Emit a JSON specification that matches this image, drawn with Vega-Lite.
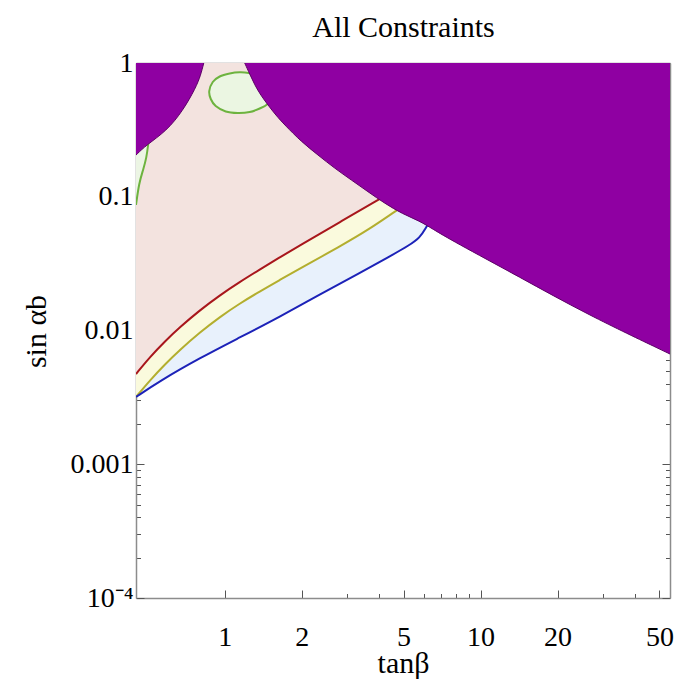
{
  "$schema": "https://vega.github.io/schema/vega-lite/v6.json",
  "width": 534,
  "height": 535,
  "autosize": {"type": "none"},
  "padding": {"left": 136, "top": 63, "right": 6, "bottom": 81},
  "config": {
    "view": {"stroke": null},
    "axis": {"labelFont": "Liberation Serif", "labelFontSize": 28, "labelColor": "#000", "titleFont": "Liberation Serif", "titleFontSize": 30, "titleFontWeight": "normal", "titleColor": "#000", "domainColor": "#8c8c8c", "domainWidth": 1.5, "tickColor": "#555", "tickWidth": 1, "grid": false, "zindex": 1, "labelOverlap": false, "labelFlush": false}
  },
  "datasets": {
    "purpleL": [{"tan":0.45,"sin":0.205},{"tan":0.494,"sin":0.2436},{"tan":0.592,"sin":0.31},{"tan":0.685,"sin":0.4377},{"tan":0.77,"sin":0.65},{"tan":0.806,"sin":0.813},{"tan":0.828,"sin":1}],
    "purpleR": [{"tan":1.197,"sin":1},{"tan":1.252,"sin":0.827},{"tan":1.31,"sin":0.685},{"tan":1.382,"sin":0.576},{"tan":1.476,"sin":0.485},{"tan":1.582,"sin":0.4087},{"tan":1.716,"sin":0.3439},{"tan":1.993,"sin":0.258},{"tan":2.314,"sin":0.2051},{"tan":2.69,"sin":0.1632},{"tan":3.126,"sin":0.1334},{"tan":3.629,"sin":0.1091},{"tan":4.217,"sin":0.0893},{"tan":4.96,"sin":0.0743},{"tan":5.777,"sin":0.0659},{"tan":6.494,"sin":0.0574},{"tan":7.775,"sin":0.0467},{"tan":14.21,"sin":0.0251},{"tan":25.87,"sin":0.01328},{"tan":55,"sin":0.00667}],
    "red": [{"tan":0.45,"sin":0.004727},{"tan":0.5094,"sin":0.006316},{"tan":0.583,"sin":0.008276},{"tan":0.6671,"sin":0.010566},{"tan":0.7988,"sin":0.014159},{"tan":0.956,"sin":0.01833},{"tan":1.1444,"sin":0.023052},{"tan":1.3699,"sin":0.028526},{"tan":1.6399,"sin":0.035203},{"tan":1.9634,"sin":0.043193},{"tan":2.8131,"sin":0.064521},{"tan":4.1051,"sin":0.098197}],
    "olive": [{"tan":0.45,"sin":0.003183},{"tan":0.5094,"sin":0.004228},{"tan":0.583,"sin":0.005569},{"tan":0.6671,"sin":0.007147},{"tan":0.7988,"sin":0.009661},{"tan":0.956,"sin":0.012616},{"tan":1.1444,"sin":0.015915},{"tan":1.3699,"sin":0.019568},{"tan":1.6399,"sin":0.023851},{"tan":1.9634,"sin":0.028925},{"tan":2.8131,"sin":0.042385},{"tan":3.6857,"sin":0.057396},{"tan":4.6558,"sin":0.078219},{"tan":5.0033,"sin":0.085237}],
    "blue": [{"tan":0.45,"sin":0.003183},{"tan":0.5573,"sin":0.004192},{"tan":0.7988,"sin":0.006229},{"tan":1.1444,"sin":0.008866},{"tan":1.6399,"sin":0.012661},{"tan":2.35,"sin":0.018585},{"tan":3.369,"sin":0.026913},{"tan":4.4111,"sin":0.035752},{"tan":5.28,"sin":0.043572},{"tan":5.7777,"sin":0.049155},{"tan":6.1518,"sin":0.059397},{"tan":6.3202,"sin":0.065866}],
    "greenL": [{"tan":0.45,"sin":0.0868},{"tan":0.4625,"sin":0.1267},{"tan":0.4797,"sin":0.1585},{"tan":0.4944,"sin":0.1949},{"tan":0.5026,"sin":0.248},{"tan":0.5093,"sin":0.3155}],
    "ellipse": [{"i":0,"tan":1.241,"sin":0.8419},{"i":1,"tan":1.144,"sin":0.852},{"i":2,"tan":1.046,"sin":0.8345},{"i":3,"tan":0.956,"sin":0.7924},{"i":4,"tan":0.898,"sin":0.721},{"i":5,"tan":0.87,"sin":0.6174},{"i":6,"tan":0.882,"sin":0.538},{"i":7,"tan":0.922,"sin":0.477},{"i":8,"tan":1.009,"sin":0.434},{"i":9,"tan":1.124,"sin":0.4228},{"i":10,"tan":1.252,"sin":0.43},{"i":11,"tan":1.37,"sin":0.4568},{"i":12,"tan":1.472,"sin":0.4937},{"i":13,"tan":1.568,"sin":0.5763},{"i":14,"tan":1.499,"sin":0.6966},{"i":15,"tan":1.37,"sin":0.7995}]
  },
  "layer": [
    {
      "encoding": {
        "x": {"field": "tan", "type": "quantitative", "scale": {"type": "log", "domain": [0.45, 55], "nice": false, "zero": false},
          "axis": {"orient": "bottom", "values": [1,2,3,4,5,6,7,8,9,10,20,30,40,50], "labelExpr": "indexof([1,2,5,10,20,50], datum.value) >= 0 ? '' + datum.value : ''", "tickSize": {"condition": {"test": "indexof([1,2,5,10,20,50], datum.value) >= 0", "value": -8}, "value": -4.5}, "labelPadding": 33, "title": "tanβ", "titleY": 74, "titleBaseline": "alphabetic"}},
        "y": {"field": "sin", "type": "quantitative", "scale": {"type": "log", "domain": [0.0001, 1], "nice": false, "zero": false},
          "axis": {"orient": "left", "values": [0.0001,0.0002,0.0003,0.0004,0.0005,0.0006,0.0007,0.0008,0.0009,0.001,0.002,0.003,0.004,0.005,0.006,0.007,0.008,0.009,0.01,0.02,0.03,0.04,0.05,0.06,0.07,0.08,0.09,0.1,0.2,0.3,0.4,0.5,0.6,0.7,0.8,0.9,1], "labelExpr": "datum.value == 1 ? '1' : datum.value == 0.1 ? '0.1' : datum.value == 0.01 ? '0.01' : datum.value == 0.001 ? '0.001' : datum.value == 0.0001 ? '10⁻⁴' : ''", "tickSize": {"condition": {"test": "indexof([1,0.1,0.01,0.001,0.0001], datum.value) >= 0", "value": -8}, "value": -4.5}, "labelPadding": 11, "title": "sin αb", "titleX": -91, "titleY": 268, "titleBaseline": "alphabetic", "titleAngle": 270, "titleAlign": "center"}}
      },
      "layer": [
        {"data": {"name": "blue"}, "mark": {"type": "area", "color": "#E8F1FC", "opacity": 1, "interpolate": "basis", "clip": true}, "encoding": {"y2": {"datum": 1}}},
        {"data": {"name": "olive"}, "mark": {"type": "area", "color": "#FAFADD", "opacity": 1, "interpolate": "basis", "clip": true}, "encoding": {"y2": {"datum": 1}}},
        {"data": {"name": "red"}, "mark": {"type": "area", "color": "#F3E3DF", "opacity": 1, "interpolate": "basis", "clip": true}, "encoding": {"y2": {"datum": 1}}},
        {"data": {"name": "greenL"}, "mark": {"type": "area", "orient": "horizontal", "color": "#ECF5E4", "opacity": 1, "interpolate": "basis", "clip": true}, "encoding": {"x2": {"datum": 0.45}}},
        {"data": {"name": "ellipse"}, "mark": {"type": "line", "fill": "#EBF6E2", "stroke": "#6DB33F", "strokeWidth": 2, "interpolate": "cardinal-closed", "clip": true}, "encoding": {"order": {"field": "i", "type": "quantitative"}}},
        {"data": {"name": "red"}, "mark": {"type": "line", "color": "#A8161C", "strokeWidth": 2, "interpolate": "basis", "clip": true}, "encoding": {}},
        {"data": {"name": "olive"}, "mark": {"type": "line", "color": "#B3AE2E", "strokeWidth": 2, "interpolate": "basis", "clip": true}, "encoding": {}},
        {"data": {"name": "blue"}, "mark": {"type": "line", "color": "#1C22B8", "strokeWidth": 2, "interpolate": "basis", "clip": true}, "encoding": {}},
        {"data": {"name": "greenL"}, "mark": {"type": "line", "color": "#6DB33F", "strokeWidth": 2, "interpolate": "basis", "clip": true}, "encoding": {"order": {"field": "sin", "type": "quantitative"}}},
        {"data": {"name": "purpleL"}, "mark": {"type": "area", "color": "#8F00A2", "opacity": 1, "interpolate": "basis", "clip": true, "line": {"color": "#5C0066", "strokeWidth": 1}}, "encoding": {"y2": {"datum": 1}}},
        {"data": {"name": "purpleR"}, "mark": {"type": "area", "color": "#8F00A2", "opacity": 1, "interpolate": "basis", "clip": true, "line": {"color": "#5C0066", "strokeWidth": 1}}, "encoding": {"y2": {"datum": 1}}}
      ]
    },
    {
      "data": {"name": "red"},
      "mark": {"type": "point", "opacity": 0},
      "encoding": {
        "x": {"field": "tan", "type": "quantitative", "scale": {"type": "log", "domain": [0.45, 55], "nice": false, "zero": false},
          "axis": {"orient": "top", "values": [1,2,3,4,5,6,7,8,9,10,20,30,40,50], "labels": false, "tickSize": {"condition": {"test": "indexof([1,2,5,10,20,50], datum.value) >= 0", "value": -8}, "value": -4.5}, "title": "All Constraints", "titleX": 267, "titleY": -27, "titleBaseline": "alphabetic", "titleAlign": "center", "titleFontSize": 30}},
        "y": {"field": "sin", "type": "quantitative", "scale": {"type": "log", "domain": [0.0001, 1], "nice": false, "zero": false},
          "axis": {"orient": "right", "values": [0.0001,0.0002,0.0003,0.0004,0.0005,0.0006,0.0007,0.0008,0.0009,0.001,0.002,0.003,0.004,0.005,0.006,0.007,0.008,0.009,0.01,0.02,0.03,0.04,0.05,0.06,0.07,0.08,0.09,0.1,0.2,0.3,0.4,0.5,0.6,0.7,0.8,0.9,1], "labels": false, "tickSize": {"condition": {"test": "indexof([1,0.1,0.01,0.001,0.0001], datum.value) >= 0", "value": -8}, "value": -4.5}, "title": null}}
      }
    }
  ],
  "resolve": {"axis": {"x": "independent", "y": "independent"}}
}
